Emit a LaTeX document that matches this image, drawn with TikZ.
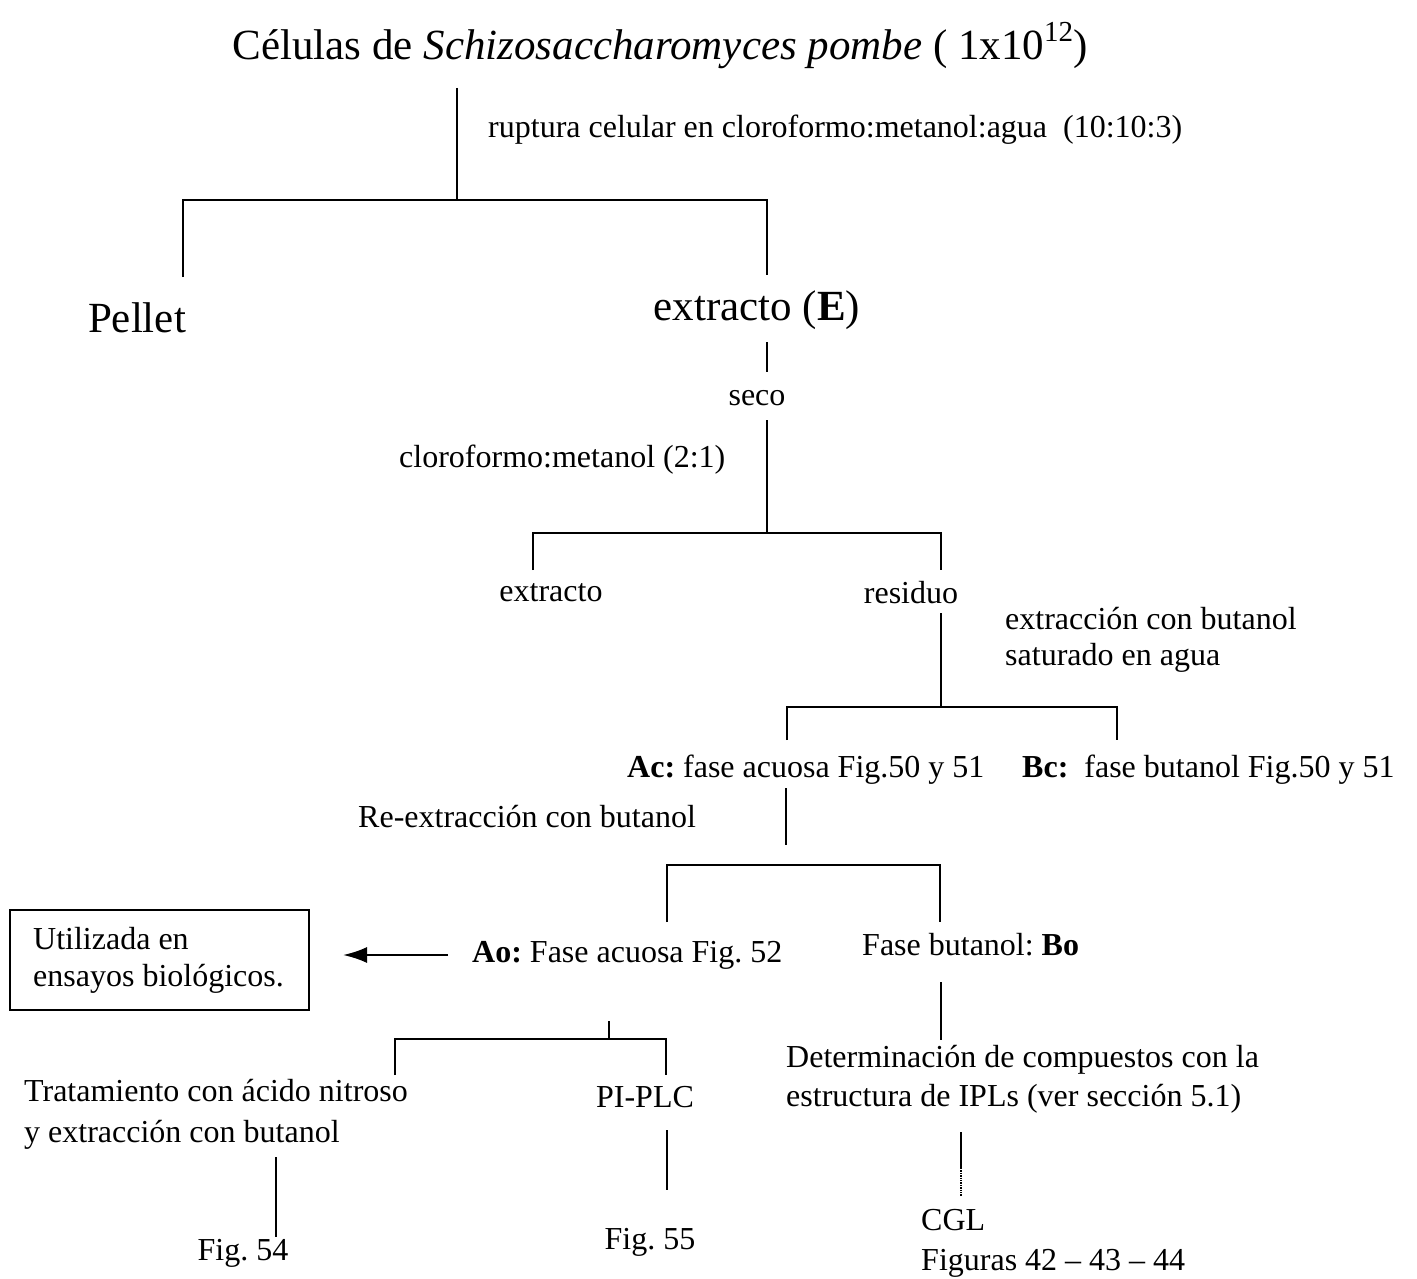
\documentclass[tikz,border=0pt]{standalone}
\usepackage{fontspec}
\setmainfont{Liberation Serif}
\usetikzlibrary{arrows.meta}
\frenchspacing

\tikzset{
  txt/.style={inner sep=0pt, font=\fontsize{32}{39}\selectfont},
  big/.style={inner sep=0pt, font=\fontsize{43}{48}\selectfont},
  ln/.style={line width=2.2pt},
}

\begin{document}
\begin{tikzpicture}[x=1pt,y=-1pt]
        \useasboundingbox (0,0) rectangle (1417,1279);

        \node[big] (cel) at (660,46) {Células de \textit{Schizosaccharomyces pombe} ( 1x10\raisebox{0.42em}{\fontsize{29}{29}\selectfont 12})};
        \node[txt,anchor=west] (rupt) at (488,130) {ruptura celular en cloroformo:metanol:agua\ \ (10:10:3)};

        \node[big] (pellet) at (137,318) {Pellet};
        \node[big] (extE) at (757,310) {extracto (\textbf{E})};
        \node[txt] (seco) at (757,398) {seco};
        \node[txt,anchor=west] (cm) at (399,460) {cloroformo:metanol (2:1)};

        \node[txt] (extr) at (551,593) {extracto};
        \node[txt] (resid) at (911,593) {residuo};
        \node[txt,anchor=west,align=left,font=\fontsize{32}{36}\selectfont] (butlbl) at (1005,640) {extracción con butanol\\saturado en agua};

        \node[txt,anchor=west] (Ac) at (627,770) {\textbf{Ac:} fase acuosa Fig.50 y 51};
        \node[txt,anchor=west] (Bc) at (1022,770) {\textbf{Bc:}\ \ fase butanol Fig.50 y 51};
        \node[txt,anchor=west] (reext) at (358,817) {Re-extracción con butanol};

        \node[txt,anchor=west] (Ao) at (472,955) {\textbf{Ao:} Fase acuosa Fig. 52};
        \node[txt,anchor=west] (Bo) at (862,945) {Fase butanol: \textbf{Bo}};
        \node[txt,anchor=west,align=left,font=\fontsize{32}{37}\selectfont] (uso) at (33,960) {Utilizada en\\ensayos biológicos.};
        \draw[line width=1.6pt] (10,910) rectangle (309,1010);

        \node[txt,anchor=west,align=left,font=\fontsize{32}{41}\selectfont] (trat) at (24,1114) {Tratamiento con ácido nitroso\\y extracción con butanol};
        \node[txt] (piplc) at (645,1097) {PI-PLC};
        \node[txt,anchor=west,align=left] (det) at (786,1079) {Determinación de compuestos con la\\estructura de IPLs (ver sección 5.1)};

        \node[txt] (f54) at (243,1253) {Fig. 54};
        \node[txt] (f55) at (650,1242) {Fig. 55};
        \node[txt,anchor=west,align=left,font=\fontsize{32}{40}\selectfont] (cgl) at (921,1243) {CGL\\Figuras 42 -- 43 -- 44};

        % ramas
        \coordinate (a0) at (457,88);
        \coordinate (a1) at (457,200);
        \coordinate (pl) at (183,277);
        \coordinate (er) at (767,275);
        \draw[ln] (a0) -- (a1);
        \draw[ln] (pl) -- (pl |- a1) -- (er |- a1) -- (er);

        \draw[ln] (767,342) -- (767,372);
        \coordinate (b0) at (767,420);
        \coordinate (b1) at (767,533);
        \coordinate (xl) at (533,570);
        \coordinate (rr) at (941,570);
        \draw[ln] (b0) -- (b1);
        \draw[ln] (xl) -- (xl |- b1) -- (rr |- b1) -- (rr);

        \coordinate (c0) at (941,613);
        \coordinate (c1) at (941,707);
        \coordinate (al) at (787,740);
        \coordinate (br) at (1117,740);
        \draw[ln] (c0) -- (c1);
        \draw[ln] (al) -- (al |- c1) -- (br |- c1) -- (br);

        \coordinate (d0) at (786,788);
        \coordinate (d1) at (786,845);
        \coordinate (h1) at (786,865);
        \coordinate (ol) at (667,922);
        \coordinate (or) at (940,922);
        \draw[ln] (d0) -- (d1);
        \draw[ln] (ol) -- (ol |- h1) -- (or |- h1) -- (or);

        \draw[ln,-{Latex[length=24pt,width=16pt]}] (448,955) -- (343,955);

        \draw[ln] (941,982) -- (941,1040);

        \coordinate (e0) at (609,1021);
        \coordinate (e1) at (609,1039);
        \coordinate (tl) at (395,1075);
        \coordinate (pr) at (666,1075);
        \draw[ln] (e0) -- (e1);
        \draw[ln] (tl) -- (tl |- e1) -- (pr |- e1) -- (pr);

        \draw[ln] (276,1157) -- (276,1237);
        \draw[ln] (667,1130) -- (667,1190);
        \draw[ln] (961,1132) -- (961,1168);
        \draw[line width=1.4pt,densely dotted] (961,1168) -- (961,1196);
\end{tikzpicture}
\end{document}
